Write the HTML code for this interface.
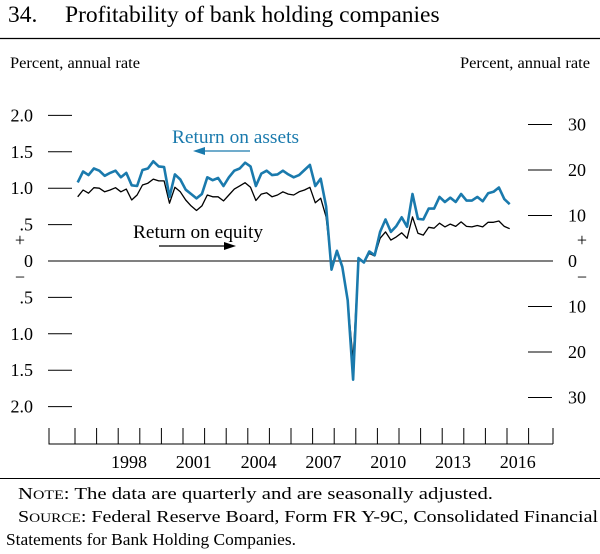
<!DOCTYPE html>
<html><head><meta charset="utf-8"><style>
body{margin:0;background:#fff;}
svg text{font-family:"Liberation Serif",serif;fill:#000;}
</style></head><body>
<svg width="600" height="549" viewBox="0 0 600 549" xmlns="http://www.w3.org/2000/svg">
<text x="8" y="22" font-size="23.5">34.<tspan x="65">Profitability of bank holding companies</tspan></text>
<line x1="0" y1="38.5" x2="600" y2="38.5" stroke="#000" stroke-width="1.2"/>
<text x="10" y="68" font-size="16" textLength="130" lengthAdjust="spacingAndGlyphs">Percent, annual rate</text>
<text x="460" y="68" font-size="16" textLength="130" lengthAdjust="spacingAndGlyphs">Percent, annual rate</text>
<g id="axes"></g>
<g id="series"></g>
<text x="172" y="143" font-size="19" textLength="127" lengthAdjust="spacingAndGlyphs" style="fill:#1a7aad">Return on assets</text>
<line x1="250" y1="151" x2="202" y2="151" stroke="#1a7aad" stroke-width="1.3"/>
<polygon points="193,151 205,147 205,155" fill="#1a7aad"/>
<text x="133" y="238" font-size="19" textLength="130" lengthAdjust="spacingAndGlyphs">Return on equity</text>
<line x1="159" y1="246" x2="226" y2="246" stroke="#000" stroke-width="1.3"/>
<polygon points="236,246 224,242 224,250" fill="#000"/>
<text x="20" y="246" font-size="18" text-anchor="middle">+</text>
<text x="20" y="283" font-size="18" text-anchor="middle">−</text>
<text x="582" y="246" font-size="18" text-anchor="middle">+</text>
<text x="582" y="283" font-size="18" text-anchor="middle">−</text>
<line x1="0" y1="478.5" x2="600" y2="478.5" stroke="#000" stroke-width="1"/>
<text x="18" y="499" font-size="17" textLength="475" lengthAdjust="spacingAndGlyphs">N<tspan font-size="13">OTE</tspan>:  The data are quarterly and are seasonally adjusted.</text>
<text x="18" y="522" font-size="17" textLength="580" lengthAdjust="spacingAndGlyphs">S<tspan font-size="13">OURCE</tspan>:  Federal Reserve Board, Form FR Y-9C, Consolidated Financial</text>
<text x="6" y="545" font-size="17" textLength="290" lengthAdjust="spacingAndGlyphs">Statements for Bank Holding Companies.</text>
</svg>
<script>
const leftTicks=[2.0,1.5,1.0,0.5,0,-0.5,-1.0,-1.5,-2.0];
const leftTickLabels=["2.0","1.5","1.0",".5","0",".5","1.0","1.5","2.0"];
const rightTicks=[30,20,10,0,-10,-20,-30];
const rightTickLabels=["30","20","10","0","10","20","30"];
const yearLabels=[1998,2001,2004,2007,2010,2013,2016];
const startYear=1996;
const roa=[1.08,1.23,1.18,1.27,1.24,1.17,1.21,1.24,1.15,1.21,1.04,1.03,1.25,1.27,1.37,1.30,1.29,0.88,1.19,1.12,0.98,0.92,0.86,0.92,1.15,1.11,1.14,1.03,1.15,1.24,1.27,1.35,1.30,1.03,1.20,1.24,1.18,1.19,1.24,1.19,1.15,1.18,1.25,1.32,1.03,1.13,0.75,-0.12,0.14,-0.08,-0.54,-1.63,0.04,-0.02,0.13,0.08,0.40,0.57,0.40,0.48,0.60,0.47,0.92,0.58,0.57,0.72,0.72,0.88,0.81,0.87,0.81,0.92,0.83,0.83,0.88,0.82,0.93,0.95,1.01,0.85,0.78];
const roe=[14.1,15.6,14.9,16.1,16.0,15.2,15.6,16.1,15.2,15.8,13.4,14.5,16.7,17.1,18.0,17.6,17.6,12.7,16.2,15.2,13.4,12.1,11.1,12.1,14.5,14.1,14.1,13.2,14.5,15.8,16.5,17.2,16.2,13.3,14.7,15.0,14.1,14.5,15.2,14.7,14.5,15.2,15.6,16.2,12.8,13.8,9.7,-1.2,2.0,-1.6,-8.6,-21.8,0.6,-0.4,1.7,1.1,5.0,6.4,4.6,5.3,6.2,5.0,9.7,6.1,5.7,7.4,7.2,8.3,7.5,8.1,7.6,8.6,7.6,7.5,7.8,7.5,8.5,8.5,8.8,7.6,7.1];
const NS="http://www.w3.org/2000/svg";
const yL=v=>261-v*72.8;
const yR=v=>261-v*4.55;
const xYear=y=>75+(y-startYear)*21.6;
const xQ=i=>xYear(startYear+(i+0.5)/4);
function mk(tag,attrs,parent){const e=document.createElementNS(NS,tag);for(const k in attrs)e.setAttribute(k,attrs[k]);parent.appendChild(e);return e;}
const ax=document.getElementById('axes');
leftTicks.forEach((v,i)=>{
 const l=mk('line',{x1:48,x2:72,y1:yL(v),y2:yL(v),stroke:'#000','stroke-width':1},ax);
 
 
 const t=mk('text',{x:33,y:yL(v)+6,'font-size':18,'text-anchor':'end'},ax);t.textContent=leftTickLabels[i];
 
 
});
rightTicks.forEach((v,i)=>{
 const l=mk('line',{x1:528,x2:552,y1:yR(v),y2:yR(v),stroke:'#000','stroke-width':1},ax);
 
 
 const t=mk('text',{x:568,y:yR(v)+6,'font-size':18,'text-anchor':'start'},ax);t.textContent=rightTickLabels[i];
 
 
});
const z=mk('line',{x1:48,x2:553,y1:261,y2:261,stroke:'#000','stroke-width':1},ax);


const xa=mk('line',{x1:48.5,x2:553,y1:444,y2:444,stroke:'#000','stroke-width':1},ax);


for(let yr=1995;yr<=2018;yr++){
 let x=yr===1995?49:(yr===2018?553:xYear(yr));
 const l=mk('line',{x1:x,x2:x,y1:428,y2:444,stroke:'#000','stroke-width':1},ax);
 
 
}
yearLabels.forEach(yr=>{
 const t=mk('text',{x:xYear(yr+0.5),y:468,'font-size':18,'text-anchor':'middle'},ax);t.textContent=yr;
 
 
});
const sg=document.getElementById('series');
const p1=mk('polyline',{points:roe.map((v,i)=>xQ(i).toFixed(1)+','+yR(v).toFixed(1)).join(' '),fill:'none',stroke:'#000','stroke-width':1.3,'stroke-linejoin':'round'},sg);


const p2=mk('polyline',{points:roa.map((v,i)=>xQ(i).toFixed(1)+','+yL(v).toFixed(1)).join(' '),fill:'none',stroke:'#1a7aad','stroke-width':2.6,'stroke-linejoin':'round'},sg);


</script>
</body></html>
